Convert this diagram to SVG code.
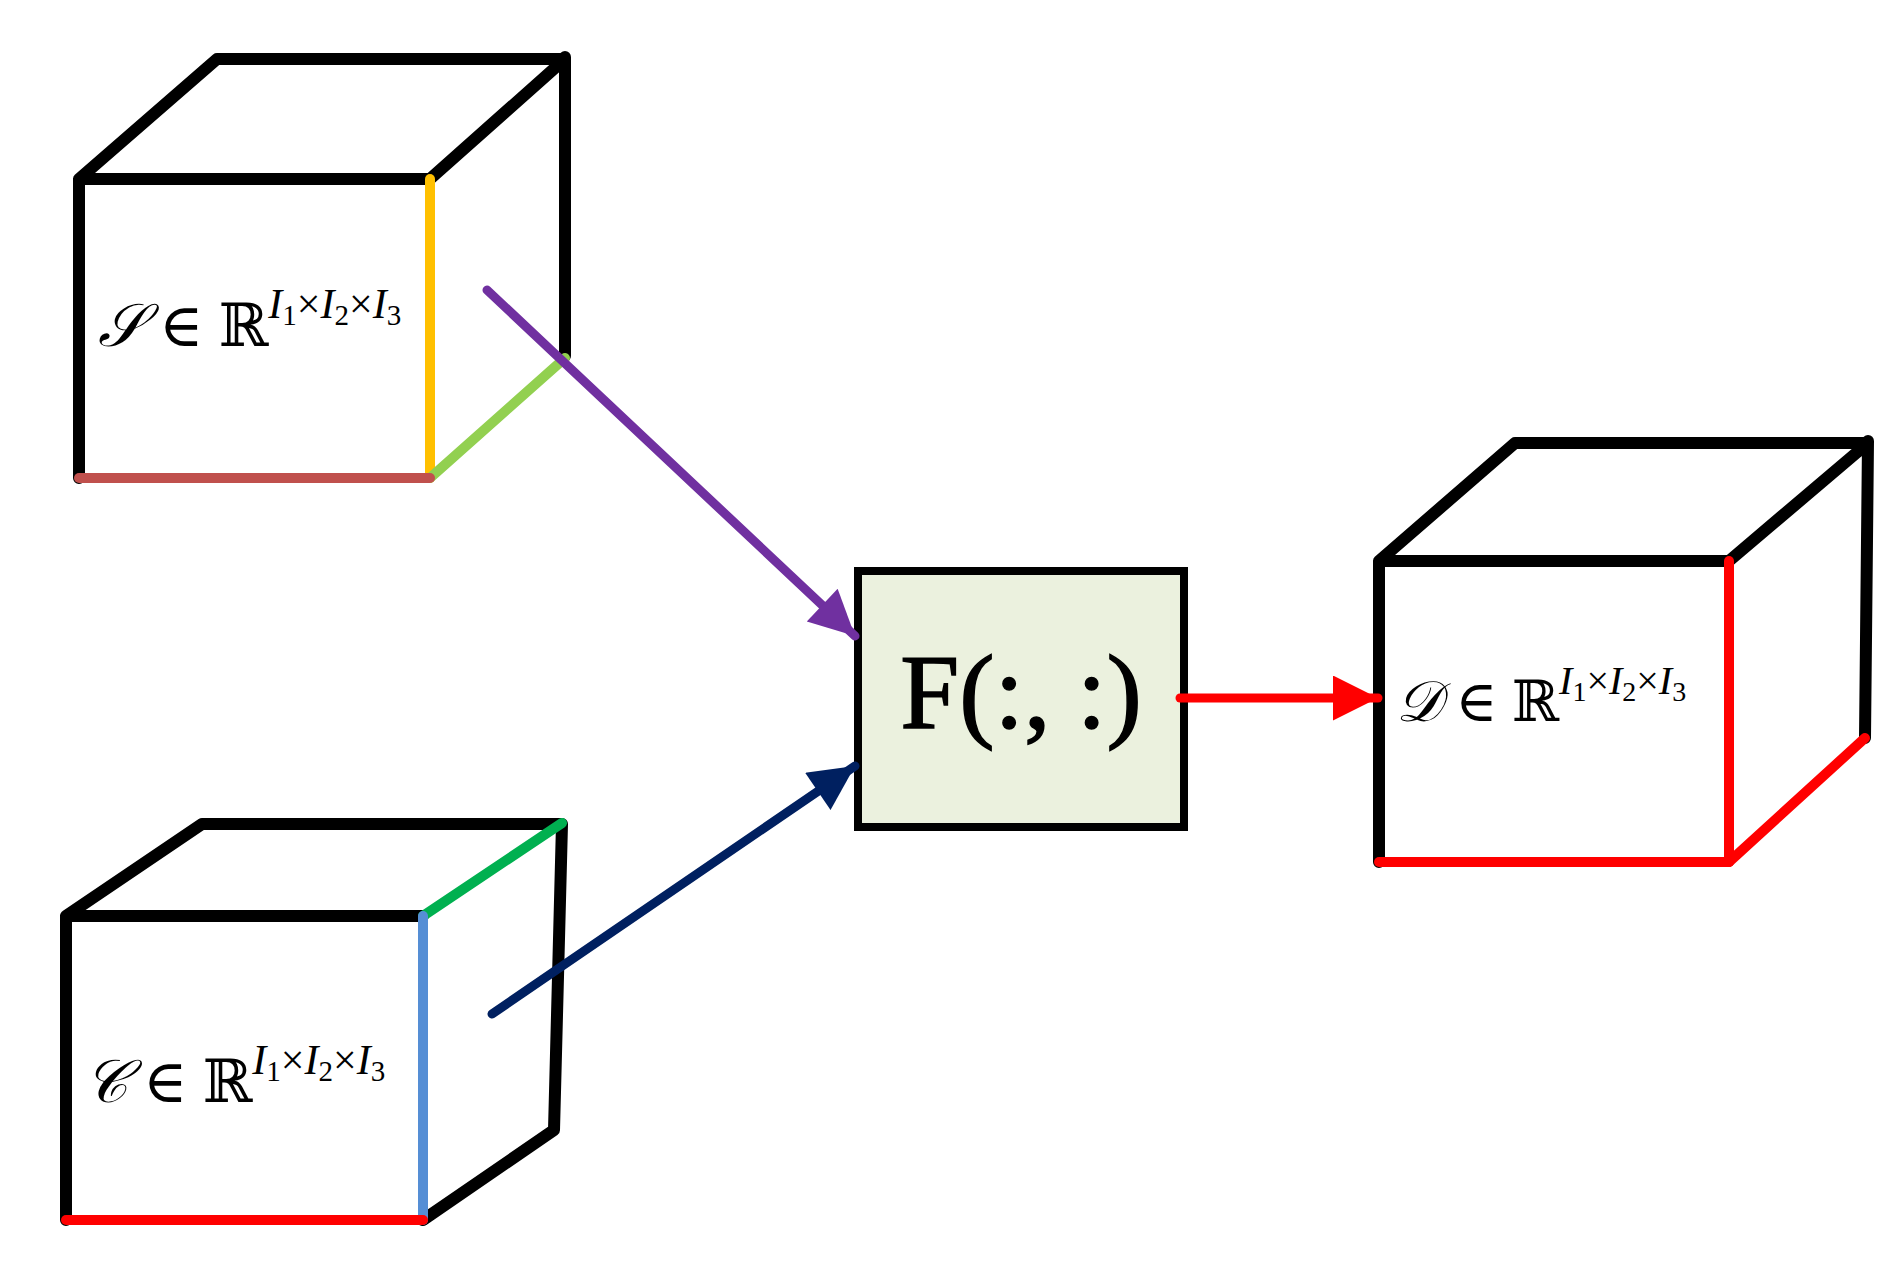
<svg xmlns="http://www.w3.org/2000/svg" width="1894" height="1276" viewBox="0 0 1894 1276">
<style>
.k{stroke:#000;stroke-width:12;fill:none;stroke-linecap:round;stroke-linejoin:round}
.e{stroke-width:10;fill:none;stroke-linecap:round}
.t{font-family:"Liberation Serif","DejaVu Serif",serif;fill:#000}
</style>
<defs>
<marker id="mp" viewBox="0 0 10 10" refX="10" refY="5" markerWidth="5.5" markerHeight="5" orient="auto" markerUnits="strokeWidth"><path d="M0,0L10,5L0,10z" fill="#7030A0"/></marker>
<marker id="mn" viewBox="0 0 10 10" refX="10" refY="5" markerWidth="5.5" markerHeight="5" orient="auto" markerUnits="strokeWidth"><path d="M0,0L10,5L0,10z" fill="#002060"/></marker>
<marker id="mr" viewBox="0 0 10 10" refX="10" refY="5" markerWidth="5.5" markerHeight="5" orient="auto" markerUnits="strokeWidth"><path d="M0,0L10,5L0,10z" fill="#FF0000"/></marker>
</defs>
<rect width="1894" height="1276" fill="#fff"/>
<g id="cubeS">
<path class="k" d="M79,478V179H430M79,179L217,59H565L430,179M565,57V356"/>
<line class="e" x1="430" y1="179" x2="430" y2="478" stroke="#FFC000"/>
<line class="e" x1="430" y1="478" x2="565" y2="358" stroke="#92D050"/>
<line class="e" x1="79" y1="478" x2="430" y2="478" stroke="#C0504D"/>
<text class="t" x="98" y="346" font-size="60"><tspan font-style="italic">𝒮</tspan> ∈ ℝ<tspan font-size="42" dy="-28" font-style="italic">I</tspan><tspan font-size="29" dy="7">1</tspan><tspan font-size="42" dy="-7">×</tspan><tspan font-size="42" font-style="italic">I</tspan><tspan font-size="29" dy="7">2</tspan><tspan font-size="42" dy="-7">×</tspan><tspan font-size="42" font-style="italic">I</tspan><tspan font-size="29" dy="7">3</tspan></text>
</g>
<g id="cubeC">
<path class="k" d="M66,1220V916H423M66,916L202,824H562L554,1130L423,1220"/>
<line class="e" x1="423" y1="916" x2="562" y2="823" stroke="#00B050"/>
<line class="e" x1="423" y1="916" x2="423" y2="1220" stroke="#558ED5"/>
<line class="e" x1="66" y1="1220" x2="423" y2="1220" stroke="#FF0000"/>
<text class="t" x="84" y="1102" font-size="60"><tspan font-style="italic">𝒞</tspan> ∈ ℝ<tspan font-size="42" dy="-28" font-style="italic">I</tspan><tspan font-size="29" dy="7">1</tspan><tspan font-size="42" dy="-7">×</tspan><tspan font-size="42" font-style="italic">I</tspan><tspan font-size="29" dy="7">2</tspan><tspan font-size="42" dy="-7">×</tspan><tspan font-size="42" font-style="italic">I</tspan><tspan font-size="29" dy="7">3</tspan></text>
</g>
<g id="boxF">
<rect x="858" y="571" width="326" height="256" fill="#EBF1DE" stroke="#000" stroke-width="8"/>
<text class="t" x="1021" y="728" font-size="106" text-anchor="middle" stroke="#000" stroke-width="1.5">F(:, :)</text>
</g>
<g id="cubeD">
<path class="k" d="M1379,862V561H1729M1379,561L1515,443H1868L1729,561M1868,441L1865,738"/>
<line class="e" x1="1729" y1="561" x2="1729" y2="862" stroke="#FF0000"/>
<line class="e" x1="1379" y1="862" x2="1729" y2="862" stroke="#FF0000"/>
<line class="e" x1="1729" y1="862" x2="1865" y2="738" stroke="#FF0000"/>
<text class="t" x="1396" y="721" font-size="57"><tspan font-style="italic">𝒟</tspan> ∈ ℝ<tspan font-size="40" dy="-27" font-style="italic">I</tspan><tspan font-size="28" dy="7">1</tspan><tspan font-size="40" dy="-7">×</tspan><tspan font-size="40" font-style="italic">I</tspan><tspan font-size="28" dy="7">2</tspan><tspan font-size="40" dy="-7">×</tspan><tspan font-size="40" font-style="italic">I</tspan><tspan font-size="28" dy="7">3</tspan></text>
</g>
<g id="connectors">
<line x1="487" y1="290" x2="855" y2="636" stroke="#7030A0" stroke-width="9" stroke-linecap="round" marker-end="url(#mp)"/>
<line x1="492" y1="1014" x2="855" y2="766" stroke="#002060" stroke-width="9" stroke-linecap="round" marker-end="url(#mn)"/>
<line x1="1180" y1="698" x2="1378" y2="698" stroke="#FF0000" stroke-width="9" stroke-linecap="round" marker-end="url(#mr)"/>
</g>
</svg>
